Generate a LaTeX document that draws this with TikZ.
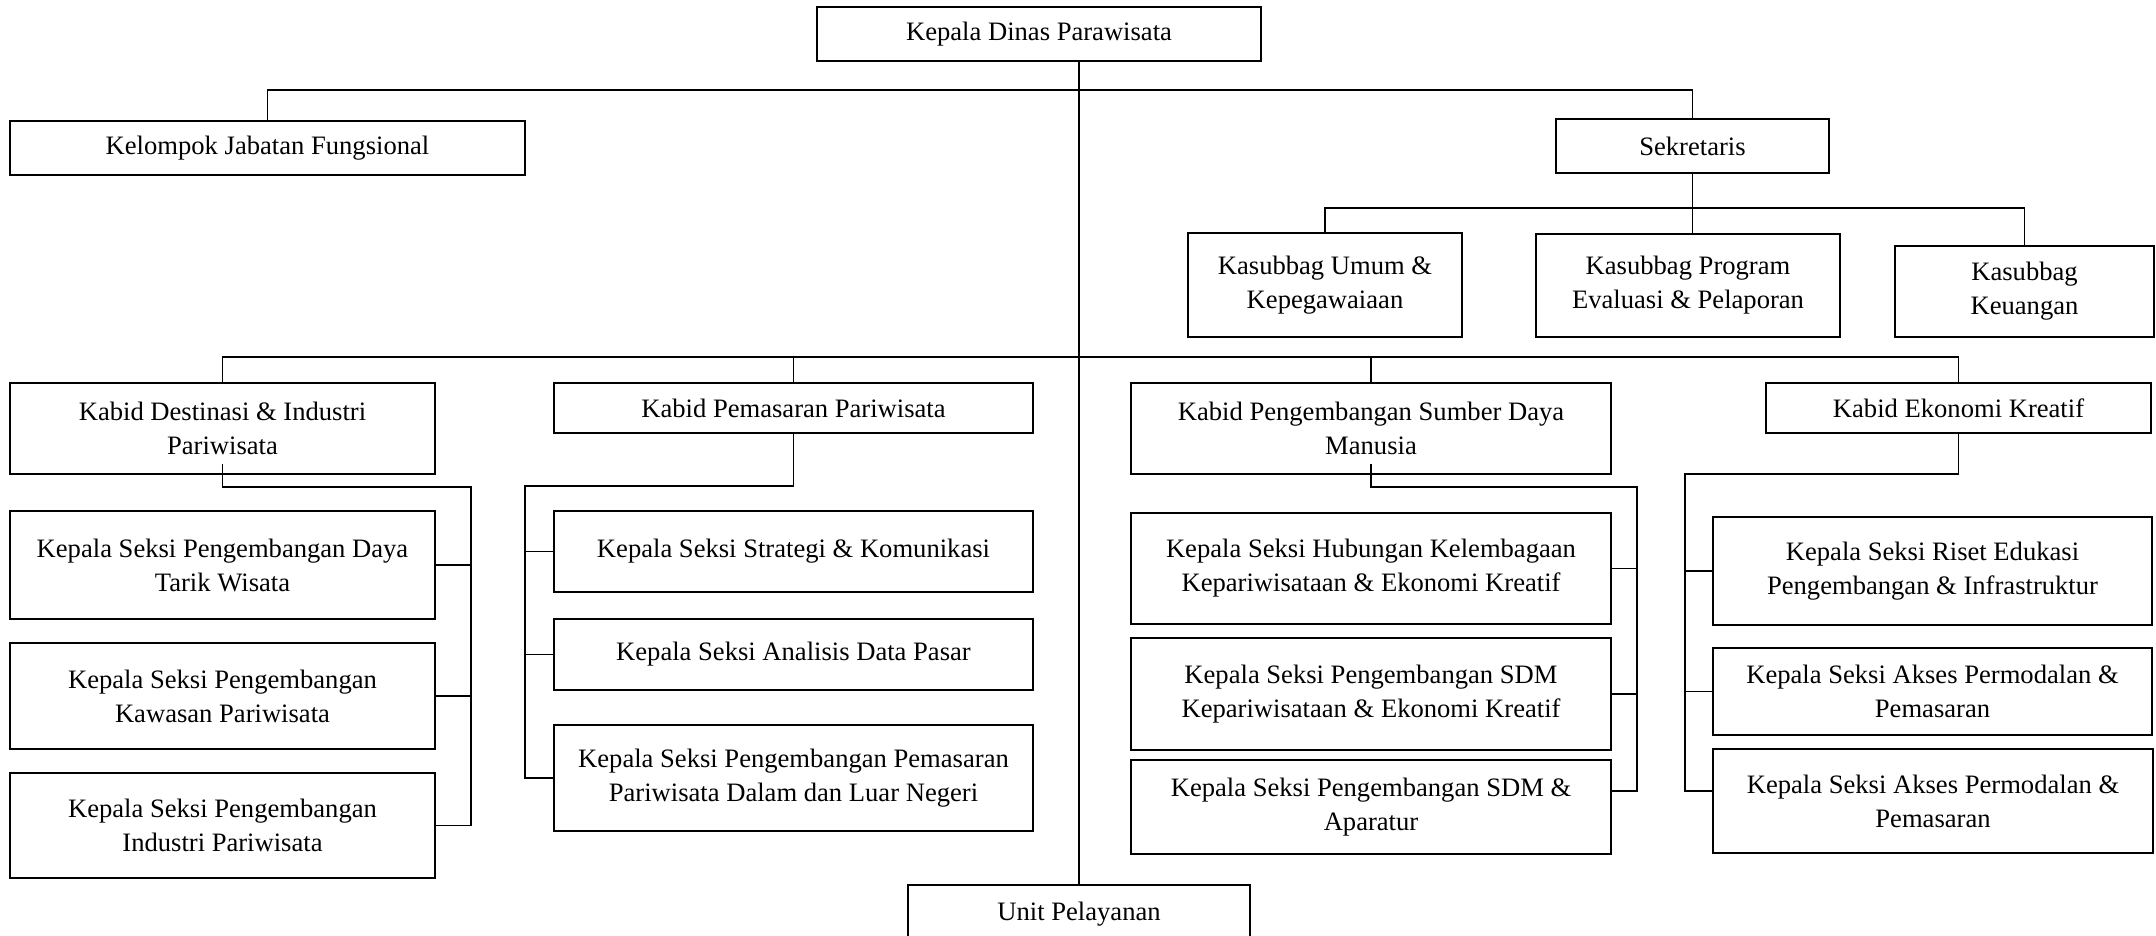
\documentclass[tikz,border=0pt]{standalone}
\usepackage{fontspec}
\setmainfont{Liberation Serif}
\begin{document}
\begin{tikzpicture} [
    x=0.5pt, y=-0.5pt,
    bx/.style={draw, line width=1pt, align=center, inner sep=0pt,
      font=\fontsize{13.3pt}{17pt}\selectfont},
    wh/.style 2 args={minimum width=#1*0.5pt, minimum height=#2*0.5pt},
    ln/.style={draw, line width=0.75pt}
  ]
  \useasboundingbox (0,0) rectangle (2156,936);

  \node[bx, wh={444}{54}] (kadis) at (1039,34) {Kepala Dinas Parawisata};
  \node[bx, wh={515}{54}] (kjf) at (267.5,148) {Kelompok Jabatan Fungsional};
  \node[bx, wh={273}{54}] (sek) at (1692.5,146) {Sekretaris};
  \node[bx, wh={274}{104}] (umum) at (1325,285) {Kasubbag Umum \&\\Kepegawaiaan};
  \node[bx, wh={304}{103}] (prog) at (1688,285.5) {Kasubbag Program\\Evaluasi \& Pelaporan};
  \node[bx, wh={259}{91}] (keu) at (2024.5,291.5) {Kasubbag\\Keuangan};

  \node[bx, wh={425}{91}] (kdes) at (222.5,428.5) {Kabid Destinasi \& Industri\\Pariwisata};
  \node[bx, wh={479}{50}] (kpem) at (793.5,408) {Kabid Pemasaran Pariwisata};
  \node[bx, wh={480}{91}] (ksdm) at (1371,428.5) {Kabid Pengembangan Sumber Daya\\Manusia};
  \node[bx, wh={385}{50}] (keko) at (1958.5,408) {Kabid Ekonomi Kreatif};

  \node[bx, wh={425}{108}] (s11) at (222.5,565) {Kepala Seksi Pengembangan Daya\\Tarik Wisata};
  \node[bx, wh={425}{106}] (s12) at (222.5,696) {Kepala Seksi Pengembangan\\Kawasan Pariwisata};
  \node[bx, wh={425}{105}] (s13) at (222.5,825.5) {Kepala Seksi Pengembangan\\Industri Pariwisata};

  \node[bx, wh={479}{81}] (s21) at (793.5,551.5) {Kepala Seksi Strategi \& Komunikasi};
  \node[bx, wh={479}{71}] (s22) at (793.5,654.5) {Kepala Seksi Analisis Data Pasar};
  \node[bx, wh={479}{106}] (s23) at (793.5,778) {Kepala Seksi Pengembangan Pemasaran\\Pariwisata Dalam dan Luar Negeri};

  \node[bx, wh={480}{111}] (s31) at (1371,568.5) {Kepala Seksi Hubungan Kelembagaan\\Kepariwisataan \& Ekonomi Kreatif};
  \node[bx, wh={480}{112}] (s32) at (1371,694) {Kepala Seksi Pengembangan SDM\\Kepariwisataan \& Ekonomi Kreatif};
  \node[bx, wh={480}{94}] (s33) at (1371,807) {Kepala Seksi Pengembangan SDM \&\\Aparatur};

  \node[bx, wh={439}{108}] (s41) at (1932.5,571) {Kepala Seksi Riset Edukasi\\Pengembangan \& Infrastruktur};
  \node[bx, wh={439}{87}] (s42) at (1932.5,691.5) {Kepala Seksi Akses Permodalan \&\\Pemasaran};
  \node[bx, wh={440}{104}] (s43) at (1933,801) {Kepala Seksi Akses Permodalan \&\\Pemasaran};

  \node[bx, wh={342}{58}] (unit) at (1079,914) {Unit Pelayanan};

  \coordinate (bar1) at (1079,90);
  \coordinate (bar2) at (1692.5,208);
  \coordinate (bar3) at (1079,357);
  \coordinate (v1) at (471,487);
  \coordinate (v2) at (525,486);
  \coordinate (v3) at (1637,487);
  \coordinate (v4) at (1685,474);

  \draw[ln] (kadis.south -| unit.north) -- (unit.north);
  \draw[ln] (kjf.north) |- (bar1) -| (sek.north);
  \draw[ln] (umum.north) |- (bar2) -| (keu.north);
  \draw[ln] (sek.south) -- (sek.south |- prog.north);
  \draw[ln] (kdes.north) |- (bar3) -| (keko.north);
  \draw[ln] (kpem.north) -- (kpem.north |- bar3);
  \draw[ln] (ksdm.north) -- (ksdm.north |- bar3);

  \draw[ln] ([yshift=5.5pt]kdes.south) |- (v1) |- (s13.east);
  \draw[ln] (s11.east) -- (s11.east -| v1);
  \draw[ln] (s12.east) -- (s12.east -| v1);

  \draw[ln] (kpem.south) |- (v2) |- (s23.west);
  \draw[ln] (s21.west) -- (s21.west -| v2);
  \draw[ln] (s22.west) -- (s22.west -| v2);

  \draw[ln] ([yshift=5.5pt]ksdm.south) |- (v3) |- ([yshift=8pt]s33.east);
  \draw[ln] (s31.east) -- (s31.east -| v3);
  \draw[ln] (s32.east) -- (s32.east -| v3);

  \draw[ln] (keko.south) |- (v4) |- ([yshift=5pt]s43.west);
  \draw[ln] (s41.west) -- (s41.west -| v4);
  \draw[ln] (s42.west) -- (s42.west -| v4);
\end{tikzpicture}
\end{document}
